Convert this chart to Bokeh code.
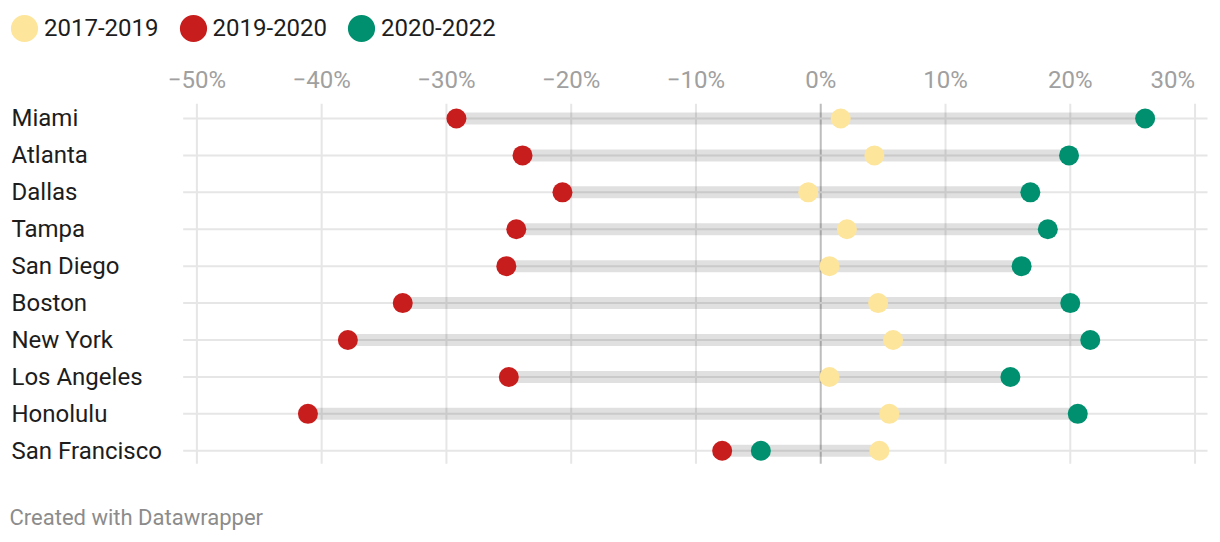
from bokeh.plotting import figure
from bokeh.models import Range1d, Legend, LegendItem, ColumnDataSource
from bokeh.core.properties import value
from bokeh.embed import file_html
from bokeh.resources import INLINE
import numpy as np

cities = ["Miami", "Atlanta", "Dallas", "Tampa", "San Diego", "Boston",
          "New York", "Los Angeles", "Honolulu", "San Francisco"]
chg_2017_2019 = [1.6, 4.3, -1.0, 2.1, 0.7, 4.6, 5.8, 0.7, 5.5, 4.7]
chg_2019_2020 = [-29.2, -23.9, -20.7, -24.4, -25.2, -33.5, -37.9, -25.0, -41.1, -7.9]
chg_2020_2022 = [26.0, 19.9, 16.8, 18.2, 16.1, 20.0, 21.6, 15.2, 20.6, -4.8]
series_labels = ["2017-2019", "2019-2020", "2020-2022"]
tick_values = [-50, -40, -30, -20, -10, 0, 10, 20, 30]
tick_labels = ["\u221250%", "\u221240%", "\u221230%", "\u221220%", "\u221210%",
               "0%", "10%", "20%", "30%"]
footer_text = "Created with Datawrapper"

YELLOW = "#fee59c"
RED = "#c71e1d"
GREEN = "#00906f"
FONT = "Roboto"
W, H = 1220, 542

rows = list(range(len(cities)))
vals = np.array([chg_2017_2019, chg_2019_2020, chg_2020_2022])
src = ColumnDataSource(dict(
    city=cities, y=rows,
    a=chg_2017_2019, b=chg_2019_2020, c=chg_2020_2022,
    lo=vals.min(axis=0), hi=vals.max(axis=0),
))

x_start, x_end = -65.74, 32.04
y_top, y_bottom = -3.196, 11.484
p = figure(width=W, height=H, output_backend="svg", toolbar_location=None,
           x_range=Range1d(x_start, x_end), y_range=Range1d(y_bottom, y_top),
           x_axis_location=None, y_axis_location=None)
p.min_border = 0
p.outline_line_color = None
p.background_fill_color = "white"
p.border_fill_color = "white"
p.xgrid.visible = False
p.ygrid.visible = False

# vertical grid lines (span of the rows only)
n_t = len(tick_values)
gsrc = ColumnDataSource(dict(
    x=tick_values, lab=tick_labels,
    y0=[-0.4] * n_t, y1=[9.35] * n_t,
    col=["#bdbdbd" if v == 0 else "#e6e6e6" for v in tick_values],
    align=["center"] * (n_t - 1) + ["right"],
))
p.segment(x0="x", x1="x", y0="y0", y1="y1", source=gsrc, line_color="col", line_width=2)

# tick labels along the top
p.text(x="x", y=-1.03, text="lab", source=gsrc, text_font=value(FONT),
       text_font_size="24px", text_color="#a0a0a0", text_align="align",
       text_baseline="middle")

# row lines
p.segment(x0=-51.1, x1=31.0, y0="y", y1="y", source=src, line_color="#e6e6e6", line_width=2)
# range bars
p.segment(x0="lo", x1="hi", y0="y", y1="y", source=src, line_color="black",
          line_alpha=0.12, line_width=12)

dot = dict(width=20, height=20, width_units="screen", height_units="screen", line_color=None)
r_a = p.ellipse(x="a", y="y", source=src, fill_color=YELLOW, **dot)
r_b = p.ellipse(x="b", y="y", source=src, fill_color=RED, **dot)
r_c = p.ellipse(x="c", y="y", source=src, fill_color=GREEN, **dot)

# city labels
p.text(x=x_start, y="y", text="city", source=src, x_offset=11,
       text_font=value(FONT), text_font_size="24px", text_color="#1d1d1d",
       text_baseline="middle", text_align="left")

# footer
p.text(x=[x_start], y=[10.807], text=[footer_text], x_offset=9,
       text_font=value(FONT), text_font_size="22px", text_color="#8c8c8c",
       text_baseline="middle", text_align="left")

leg = Legend(items=[LegendItem(label=series_labels[0], renderers=[r_a]),
                    LegendItem(label=series_labels[1], renderers=[r_b]),
                    LegendItem(label=series_labels[2], renderers=[r_c])],
             orientation="horizontal", location=(7, 497))
leg.glyph_width = 34
leg.glyph_height = 34
leg.label_text_font = FONT
leg.label_text_font_size = "24px"
leg.label_text_color = "#1d1d1d"
leg.label_standoff = 3
leg.spacing = 17
leg.padding = 0
leg.margin = 0
leg.border_line_color = None
leg.background_fill_alpha = 0
p.add_layout(leg, "center")

open("out.html", "w").write(file_html(p, INLINE))
